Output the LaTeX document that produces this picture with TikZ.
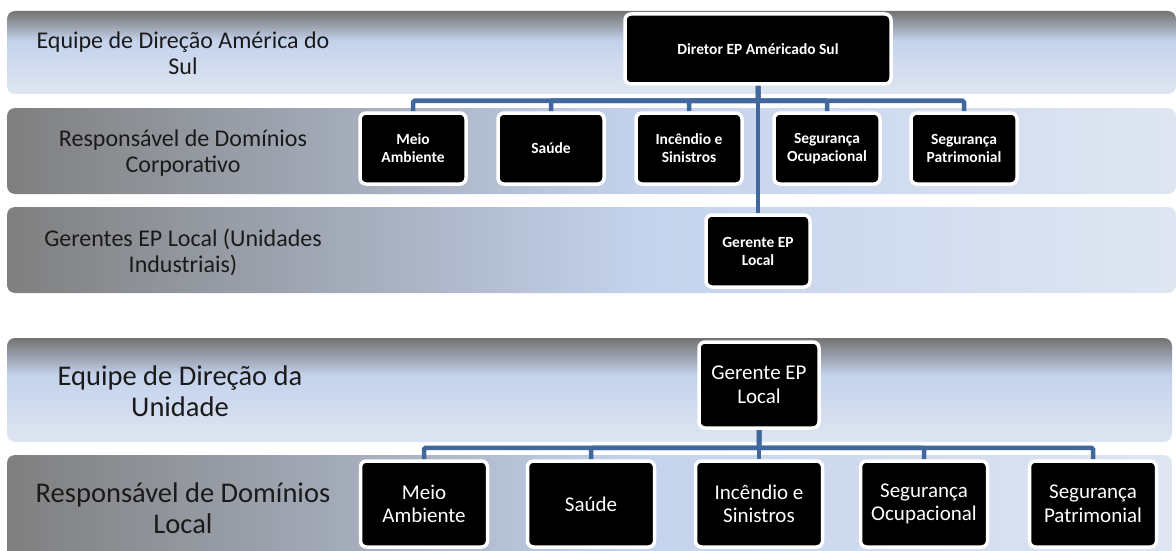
\documentclass[tikz,border=0pt]{standalone}
\usepackage{fontspec}
\setmainfont{Carlito}
\usetikzlibrary{positioning}

\definecolor{linkblue}{HTML}{41689C}
\definecolor{bandgray}{HTML}{7F7F7F}
\definecolor{bandblue}{HTML}{C4D2EC}
\definecolor{bandpale}{HTML}{DFE6F2}
\definecolor{labeltext}{HTML}{1A1A1A}

% band fills: gray on the left / at the top, fading to pale blue
\pgfdeclarehorizontalshading{bandh}{100bp}{color(0bp)=(bandgray); color(25bp)=(bandgray);
  color(52bp)=(bandblue); color(75bp)=(bandpale); color(100bp)=(bandpale)}
\pgfdeclareverticalshading{bandv}{100bp}{color(0bp)=(bandpale); color(25bp)=(bandpale);
  color(57bp)=(bandblue); color(75bp)=(bandgray!90!black); color(100bp)=(bandgray!90!black)}

\pgfdeclarelayer{bands}
\pgfdeclarelayer{links}
\pgfsetlayers{bands,links,main}

\begin{document}
\begin{tikzpicture}[
    x=1pt, y=-1pt,
    every node/.style={font=\fontsize{15.5}{18}\selectfont\bfseries},
    unitbox/.style={rectangle, fill=black, draw=white, line width=3.5pt, rounded corners=6pt,
                    text=white, align=center, inner sep=0pt, minimum width=106pt, minimum height=71pt},
    bigbox/.style={unitbox, font=\fontsize{21}{23.5}\selectfont, minimum width=127pt, minimum height=86pt},
    bandrow/.style={shading=bandh, rounded corners=8pt},
    bandhead/.style={shading=bandv, rounded corners=8pt},
    lbl/.style={font=\fontsize{24}{26}\selectfont, text=labeltext, align=center},
    biglbl/.style={font=\fontsize{28.5}{31}\selectfont, text=labeltext, align=center},
    link/.style={draw=linkblue, line width=4.5pt, rounded corners=1.5pt}
]
\useasboundingbox (0,0) rectangle (1176,551);
\clip (0,0) rectangle (1176,551);

% === Bands ===
\begin{pgfonlayer}{bands}
    \shade[bandhead] (7,11) rectangle (1176,94);
    \shade[bandrow] (7,108) rectangle (1176,194);
    \shade[bandrow] (7,207) rectangle (1176,293);
    \shade[bandhead] (7,338) rectangle (1172,442);
    \shade[bandrow] (7,455) rectangle (1172,570);
\end{pgfonlayer}

\node[lbl] (lblsa) at (183,53) {Equipe de Direção América do\\Sul};
\node[lbl] (lblcorp) at (183,153) {Responsável de Domínios\\Corporativo};
\node[lbl] (lblger) at (183,252) {Gerentes EP Local (Unidades\\Industriais)};
\node[biglbl] (lblunid) at (180,391) {Equipe de Direção da\\Unidade};
\node[biglbl] (lblloc) at (183,508) {Responsável de Domínios\\Local};

% === South America structure ===
\node[unitbox, minimum width=266pt, minimum height=70pt] (dir) at (758,49) {Diretor EP Américado Sul};

\node[unitbox] (cma) at (413,148.5) {Meio\\Ambiente};
\node[unitbox] (csa) at (551,148.5) {Saúde};
\node[unitbox] (cin) at (689,148.5) {Incêndio e\\Sinistros};
\node[unitbox] (cso) at (827,148.5) {Segurança\\Ocupacional};
\node[unitbox] (csp) at (964,148.5) {Segurança\\Patrimonial};

\node[unitbox, minimum width=104pt, minimum height=72pt] (gsa) at (758,251) {Gerente EP\\Local};

\begin{pgfonlayer}{links}
    \foreach \c in {cma,csa,cin,cso,csp}
        \draw[link] (dir.south) -- ++(0,15) -| (\c.north);
    \draw[link] (dir.south) -- (gsa.north);
\end{pgfonlayer}

% === Unit structure ===
\node[bigbox, minimum width=120pt] (gun) at (759,385) {Gerente EP\\Local};

\node[bigbox] (lma) at (424,504) {Meio\\Ambiente};
\node[bigbox] (lsa) at (591,504) {Saúde};
\node[bigbox] (lin) at (759,504) {Incêndio e\\Sinistros};
\node[bigbox] (lso) at (924,504) {Segurança\\Ocupacional};
\node[bigbox] (lsp) at (1093,504) {Segurança\\Patrimonial};

\begin{pgfonlayer}{links}
    \foreach \c in {lma,lsa,lin,lso,lsp}
        \draw[link] (gun.south) -- ++(0,18) -| (\c.north);
\end{pgfonlayer}

\end{tikzpicture}
\end{document}
